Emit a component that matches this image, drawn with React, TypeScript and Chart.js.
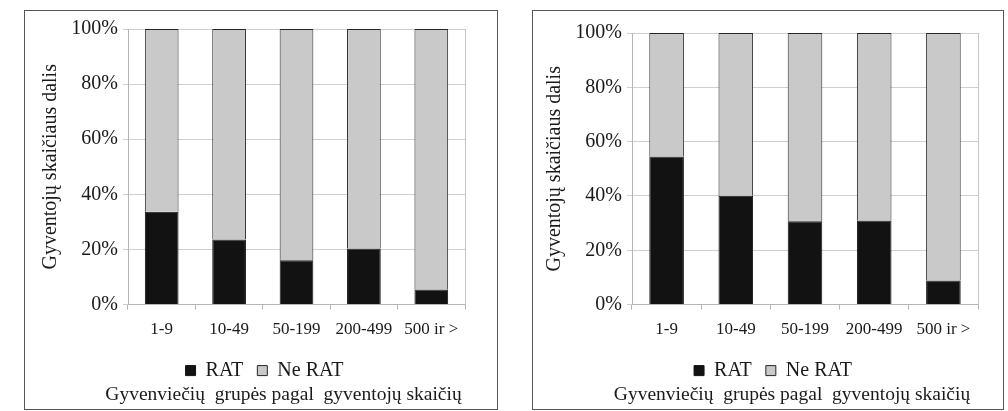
import React, { useEffect, useRef } from "react";
import { Chart, registerables } from "chart.js";

Chart.register(...registerables);

const categories = ["1-9", "10-49", "50-199", "200-499", "500 ir >"];
const ratLeft = [33.7, 23.6, 16.1, 20.4, 5.5];
const neRatLeft = ratLeft.map((v) => 100 - v);
const ratRight = [54.5, 40.1, 30.7, 31.0, 8.9];
const neRatRight = ratRight.map((v) => 100 - v);
const yTicks = [0, 20, 40, 60, 80, 100];
const seriesNames = ["RAT", "Ne RAT"];
const yTitle = "Gyventojų skaičiaus dalis";
const xTitle = "Gyvenviečių  grupės pagal  gyventojų skaičių";

const FONT = "'Liberation Serif', 'Times New Roman', serif";

type PanelProps = {
  rat: number[];
  neRat: number[];
  padLeft: number;
  padRight: number;
  padTop: number;
};

function Panel({ rat, neRat, padLeft, padRight, padTop }: PanelProps) {
  const ref = useRef<HTMLCanvasElement | null>(null);
  useEffect(() => {
    if (!ref.current) return;
    const chart = new Chart(ref.current, {
      type: "bar",
      data: {
        labels: categories,
        datasets: [
          {
            label: seriesNames[0],
            data: rat,
            backgroundColor: "#121212",
            borderColor: "#121212",
            borderWidth: 1,
            categoryPercentage: 1,
            barPercentage: 0.5,
          },
          {
            label: seriesNames[1],
            data: neRat,
            backgroundColor: "#c9c9c9",
            borderColor: "#262626",
            borderWidth: 1,
            categoryPercentage: 1,
            barPercentage: 0.5,
          },
        ],
      },
      options: {
        animation: false,
        responsive: false,
        maintainAspectRatio: false,
        layout: { padding: { left: padLeft, right: padRight, top: padTop, bottom: 0 } },
        plugins: {
          tooltip: { enabled: false },
          legend: {
            position: "bottom",
            labels: {
              color: "#1a1a1a",
              font: { family: FONT, size: 20 },
              boxWidth: 10,
              boxHeight: 10,
              padding: 14,
            },
          },
          title: {
            display: true,
            position: "bottom",
            text: xTitle,
            color: "#1a1a1a",
            font: { family: FONT, size: 19.5, weight: "normal" },
            padding: { top: -7, bottom: 2 },
          },
        },
        scales: {
          x: {
            stacked: true,
            grid: {
              drawOnChartArea: false,
              drawTicks: true,
              tickLength: 5,
              color: "#b5b5b5",
              offset: true,
            },
            border: { color: "#b5b5b5" },
            ticks: {
              color: "#1a1a1a",
              font: { family: FONT, size: 17 },
              padding: 10,
              maxRotation: 0,
              autoSkip: false,
            },
            afterFit: (s: any) => {
              s.height = 42;
            },
          },
          y: {
            stacked: true,
            min: 0,
            max: 100,
            afterBuildTicks: (s: any) => {
              s.ticks = yTicks.map((v) => ({ value: v }));
            },
            grid: { color: "#cfcfcf", tickLength: 5 },
            border: { color: "#b5b5b5" },
            ticks: {
              color: "#1a1a1a",
              font: { family: FONT, size: 20 },
              padding: 5,
              callback: (v: any) => v + "%",
            },
            title: {
              display: true,
              text: yTitle,
              color: "#1a1a1a",
              font: { family: FONT, size: 20 },
              padding: { top: 4, bottom: 0 },
            },
            afterFit: (s: any) => {
              s.width = 93;
            },
          },
        },
      },
      plugins: [
        {
          id: "shiftBottomBlocks",
          afterLayout(c: any) {
            const mid = (c.chartArea.left + c.chartArea.right) / 2;
            const lg = c.legend;
            if (lg) {
              const cur = (lg.left + lg.right) / 2;
              const d = mid - 32 - cur;
              lg.left += d;
              lg.right += d;
            }
            const tb = c.titleBlock;
            if (tb) {
              const cur = (tb.left + tb.right) / 2;
              const d = mid - 13 - cur;
              tb.left += d;
              tb.right += d;
            }
          },
        },
        {
          id: "rightBorder",
          afterDraw(c: any) {
            const { ctx, chartArea } = c;
            ctx.save();
            ctx.strokeStyle = "#c4c4c4";
            ctx.lineWidth = 1;
            ctx.beginPath();
            ctx.moveTo(Math.round(chartArea.right) + 0.5, chartArea.top);
            ctx.lineTo(Math.round(chartArea.right) + 0.5, chartArea.bottom);
            ctx.stroke();
            ctx.restore();
          },
        },
      ],
    });
    return () => chart.destroy();
  }, []);
  return <canvas ref={ref} width={470} height={398} style={{ display: "block" }} />;
}

export default function App() {
  return (
    <div style={{ position: "fixed", left: 0, top: 0, width: 1008, height: 411, background: "#fff" }}>
      <div
        style={{
          position: "absolute",
          left: 24,
          top: 10,
          width: 472,
          height: 398,
          border: "1px solid #555",
        }}
      >
        <Panel rat={ratLeft} neRat={neRatLeft} padLeft={10} padRight={30} padTop={18} />
      </div>
      <div
        style={{
          position: "absolute",
          left: 532,
          top: 10,
          width: 470,
          height: 398,
          border: "1px solid #555",
        }}
      >
        <Panel rat={ratRight} neRat={neRatRight} padLeft={6} padRight={25} padTop={22} />
      </div>
    </div>
  );
}
